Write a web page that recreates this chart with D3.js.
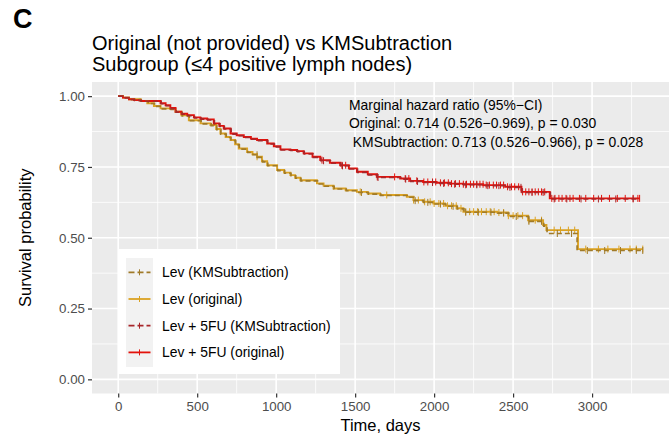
<!DOCTYPE html>
<html>
<head>
<meta charset="utf-8">
<script src="https://cdn.jsdelivr.net/npm/d3@7"></script>
<style>
  body { margin: 0; background: #fff; }
  text { font-family: "Liberation Sans", Arial, Helvetica, sans-serif; }
</style>
</head>
<body>
<script>
// survival steps (time in days, survival probability)
var levOrigT = [0, 30, 68, 142, 184, 226, 268, 330, 363, 400, 447, 521, 584, 620, 647, 680, 711, 740, 763, 816, 850, 879, 910, 943, 1006, 1050, 1090, 1120, 1153, 1258, 1300, 1363, 1440, 1511, 1580, 1658, 1827, 1869, 1930, 1995, 2070, 2143, 2185, 2400, 2469, 2595, 2690, 2711, 2911];
var levOrigS = [1, 0.995, 0.989, 0.983, 0.975, 0.965, 0.957, 0.955, 0.945, 0.932, 0.915, 0.904, 0.898, 0.884, 0.868, 0.856, 0.845, 0.83, 0.815, 0.803, 0.795, 0.786, 0.77, 0.756, 0.739, 0.73, 0.721, 0.712, 0.703, 0.692, 0.684, 0.674, 0.668, 0.662, 0.656, 0.651, 0.645, 0.633, 0.627, 0.621, 0.613, 0.604, 0.592, 0.589, 0.578, 0.562, 0.545, 0.527, 0.46];
var levOrigEnd = 3321;

var levKmsT = [0, 30, 68, 142, 190, 230, 272, 335, 366, 405, 450, 525, 588, 624, 650, 684, 714, 744, 767, 820, 853, 882, 914, 947, 1010, 1054, 1094, 1124, 1157, 1262, 1304, 1367, 1444, 1515, 1584, 1662, 1830, 1873, 1934, 1999, 2074, 2147, 2189, 2404, 2473, 2599, 2694, 2715, 2905];
var levKmsS = [1, 0.995, 0.988, 0.982, 0.974, 0.964, 0.955, 0.953, 0.943, 0.93, 0.913, 0.902, 0.896, 0.882, 0.866, 0.854, 0.843, 0.828, 0.813, 0.801, 0.793, 0.784, 0.768, 0.754, 0.737, 0.728, 0.719, 0.71, 0.701, 0.69, 0.682, 0.672, 0.666, 0.66, 0.654, 0.649, 0.643, 0.631, 0.625, 0.619, 0.611, 0.602, 0.59, 0.587, 0.575, 0.558, 0.541, 0.515, 0.455];
var levKmsEnd = 3321;

var lfuOrigT = [0, 30, 68, 100, 142, 268, 300, 330, 363, 400, 437, 479, 520, 563, 605, 640, 668, 711, 750, 795, 840, 879, 943, 985, 1027, 1090, 1132, 1174, 1230, 1279, 1340, 1405, 1460, 1511, 1580, 1637, 1785, 1848, 1930, 2016, 2100, 2185, 2311, 2450, 2553, 2732];
var lfuOrigS = [1, 0.995, 0.989, 0.986, 0.983, 0.975, 0.968, 0.958, 0.945, 0.938, 0.933, 0.925, 0.921, 0.918, 0.904, 0.895, 0.886, 0.868, 0.862, 0.856, 0.85, 0.845, 0.833, 0.823, 0.812, 0.81, 0.806, 0.798, 0.786, 0.774, 0.765, 0.756, 0.745, 0.733, 0.724, 0.715, 0.709, 0.701, 0.697, 0.694, 0.691, 0.689, 0.686, 0.68, 0.662, 0.639];
var lfuOrigEnd = 3301;

var lfuKmsT = [0, 34, 72, 104, 146, 272, 304, 334, 367, 404, 441, 483, 524, 567, 609, 644, 672, 715, 754, 799, 844, 883, 947, 989, 1031, 1094, 1136, 1178, 1234, 1283, 1344, 1409, 1464, 1515, 1584, 1641, 1789, 1852, 1934, 2020, 2104, 2189, 2315, 2454, 2557, 2736];
var lfuKmsS = [1, 0.994, 0.988, 0.985, 0.982, 0.973, 0.966, 0.956, 0.943, 0.936, 0.931, 0.923, 0.919, 0.916, 0.902, 0.893, 0.884, 0.866, 0.86, 0.854, 0.848, 0.843, 0.831, 0.821, 0.81, 0.808, 0.804, 0.796, 0.784, 0.772, 0.763, 0.754, 0.743, 0.731, 0.722, 0.713, 0.707, 0.699, 0.695, 0.692, 0.689, 0.687, 0.684, 0.678, 0.66, 0.637];
var lfuKmsEnd = 3301;

// censoring times (ticks on the curves)
var lfuCens = [1290, 1416, 1440, 1640, 1750, 1817, 1840, 1890, 1935, 1960, 1990, 2010, 2040, 2065, 2090, 2110, 2135, 2160, 2185, 2205, 2230, 2250, 2270, 2290, 2310, 2330, 2350, 2375, 2395, 2420, 2440, 2465, 2490, 2510, 2535, 2560, 2580, 2600, 2620, 2640, 2660, 2680, 2700, 2745, 2765, 2790, 2810, 2835, 2860, 2880, 2920, 2960, 3010, 3060, 3110, 3160, 3210, 3260, 3290, 3301];
var levCens = [879, 1532, 1700, 1870, 1900, 1940, 1975, 2000, 2030, 2060, 2085, 2110, 2140, 2170, 2200, 2225, 2250, 2275, 2300, 2330, 2355, 2380, 2410, 2440, 2470, 2500, 2530, 2560, 2600, 2640, 2680, 2760, 2800, 2850, 2890, 2960, 3040, 3100, 3170, 3240, 3280, 3321];
var lfuKmsCens = [1300, 1420, 1645, 1820, 1895, 1990, 2060, 2130, 2200, 2270, 2340, 2410, 2480, 2550, 2620, 2690, 2760, 2840, 2930, 3040, 3150, 3260];
var levKmsCens = [879, 1540, 1880, 1960, 2040, 2120, 2200, 2280, 2360, 2440, 2520, 2600, 2680, 2780, 2870, 2970, 3080, 3180, 3280, 3321];

var legendLabels = ["Lev (KMSubtraction)", "Lev (original)", "Lev + 5FU (KMSubtraction)", "Lev + 5FU (original)"];
var xTicks = [0, 500, 1000, 1500, 2000, 2500, 3000];
var yTicks = [0, 0.25, 0.5, 0.75, 1];
var annotLines = ["Marginal hazard ratio (95%\u2212CI)", "Original: 0.714 (0.526\u22120.969), p = 0.030", " KMSubtraction: 0.713 (0.526\u22120.966), p = 0.028"];

var width = 669, height = 435;
var colLevKms = "#a07a28", colLev = "#dba222", colLfuKms = "#a8262a", colLfu = "#e3120b";

var svg = d3.select("body").append("svg")
  .attr("width", width)
  .attr("height", height);

// panel edges
var pL = 92, pR = 669, pT = 82, pB = 393.5;

var x = d3.scaleLinear().domain([-166, 3487]).range([pL, pR]);
var y = d3.scaleLinear().domain([-0.05, 1.05]).range([pB, pT]);

// panel
svg.append("rect")
  .attr("x", pL).attr("y", pT)
  .attr("width", pR - pL).attr("height", pB - pT)
  .attr("fill", "#ebebeb");

var grid = svg.append("g");
// minor grid
[0.125, 0.375, 0.625, 0.875].forEach(function(v) {
  grid.append("line").attr("x1", pL).attr("x2", pR).attr("y1", y(v)).attr("y2", y(v))
    .attr("stroke", "#fff").attr("stroke-width", 0.8);
});
[250, 750, 1250, 1750, 2250, 2750, 3250].forEach(function(v) {
  grid.append("line").attr("y1", pT).attr("y2", pB).attr("x1", x(v)).attr("x2", x(v))
    .attr("stroke", "#fff").attr("stroke-width", 0.8);
});
// major grid
yTicks.forEach(function(v) {
  grid.append("line").attr("x1", pL).attr("x2", pR).attr("y1", y(v)).attr("y2", y(v))
    .attr("stroke", "#fff").attr("stroke-width", 1.6);
});
xTicks.forEach(function(v) {
  grid.append("line").attr("y1", pT).attr("y2", pB).attr("x1", x(v)).attr("x2", x(v))
    .attr("stroke", "#fff").attr("stroke-width", 1.6);
});

// build step line
function stepPts(T, S, end) {
  var pts = [];
  for (var i = 0; i < T.length; i++) pts.push([T[i], S[i]]);
  pts.push([end, S[S.length - 1]]);
  return pts;
}
function survAt(T, S, t) {
  var s = S[0];
  for (var i = 0; i < T.length; i++) { if (T[i] <= t) s = S[i]; }
  return s;
}
var line = d3.line().x(function(d) { return x(d[0]); }).y(function(d) { return y(d[1]); })
  .curve(d3.curveStepAfter);

// originals first, KMSubtraction dashed on top
var curves = [
  {T: levOrigT, S: levOrigS, end: levOrigEnd, cens: levCens, col: colLev, dash: null},
  {T: lfuOrigT, S: lfuOrigS, end: lfuOrigEnd, cens: lfuCens, col: colLfu, dash: null},
  {T: levKmsT, S: levKmsS, end: levKmsEnd, cens: levKmsCens, col: colLevKms, dash: "5,3"},
  {T: lfuKmsT, S: lfuKmsS, end: lfuKmsEnd, cens: lfuKmsCens, col: colLfuKms, dash: "5,3"}
];

curves.forEach(function(c) {
  svg.append("path")
    .attr("d", line(stepPts(c.T, c.S, c.end)))
    .attr("fill", "none")
    .attr("stroke", c.col)
    .attr("stroke-width", c.dash ? 1.6 : 1.9)
    .attr("stroke-dasharray", c.dash);
  svg.selectAll(null)
    .data(c.cens)
    .enter()
    .append("line")
    .attr("x1", function(d) { return x(d); })
    .attr("x2", function(d) { return x(d); })
    .attr("y1", function(d) { return y(survAt(c.T, c.S, d)) - 3.5; })
    .attr("y2", function(d) { return y(survAt(c.T, c.S, d)) + 3.5; })
    .attr("stroke", c.col)
    .attr("stroke-width", 1);
});

// axes
var yAxis = d3.axisLeft(y).tickValues(yTicks).tickFormat(d3.format(".2f")).tickSize(4).tickPadding(3);
var xAxis = d3.axisBottom(x).tickValues(xTicks).tickFormat(d3.format("d")).tickSize(4).tickPadding(4);

var gy = svg.append("g").attr("transform", "translate(" + pL + ",0)").call(yAxis);
var gx = svg.append("g").attr("transform", "translate(0," + pB + ")").call(xAxis);
[gy, gx].forEach(function(g) {
  g.select(".domain").remove();
  g.selectAll(".tick line").attr("stroke", "#333").attr("stroke-width", 1.2);
  g.selectAll(".tick text").attr("fill", "#4d4d4d").style("font-size", "13.3px")
    .style("font-family", "'Liberation Sans', Arial, sans-serif");
});

// axis titles
svg.append("text")
  .attr("x", (pL + pR) / 2).attr("y", 431)
  .attr("text-anchor", "middle").style("font-size", "16.5px")
  .text("Time, days");
svg.append("text")
  .attr("transform", "translate(31," + ((pT + pB) / 2) + ") rotate(-90)")
  .attr("text-anchor", "middle").style("font-size", "16.5px")
  .text("Survival probability");

// title
svg.append("text").attr("x", 13).attr("y", 28)
  .style("font-size", "27px").style("font-weight", "bold").text("C");
svg.append("text").attr("x", 92).attr("y", 50).style("font-size", "20px")
  .text("Original (not provided) vs KMSubtraction");
svg.append("text").attr("x", 92).attr("y", 71).style("font-size", "20px")
  .text("Subgroup (\u22644 positive lymph nodes)");

// annotation
annotLines.forEach(function(t, i) {
  svg.append("text").attr("x", 349).attr("y", 110 + i * 18.3)
    .style("font-size", "13.9px").style("white-space", "pre")
    .text(t);
});

// legend
var lg = svg.append("g");
lg.append("rect").attr("x", 118).attr("y", 249).attr("width", 222).attr("height", 125).attr("fill", "#fff");
lg.append("rect").attr("x", 126).attr("y", 258).attr("width", 27).attr("height", 109).attr("fill", "#f2f2f2");
var keyCols = [colLevKms, colLev, colLfuKms, colLfu];
var keyDash = ["6,3", null, "6,3", null];
legendLabels.forEach(function(lab, i) {
  var cy = 272.3 + i * 26.7;
  lg.append("line").attr("x1", 128.5).attr("x2", 150.5).attr("y1", cy).attr("y2", cy)
    .attr("stroke", keyCols[i]).attr("stroke-width", 1.8).attr("stroke-dasharray", keyDash[i]);
  lg.append("line").attr("x1", 139.5).attr("x2", 139.5).attr("y1", cy - 3).attr("y2", cy + 3)
    .attr("stroke", keyCols[i]).attr("stroke-width", 1);
  lg.append("text").attr("x", 162).attr("y", cy + 5)
    .style("font-size", "13.9px").text(lab);
});
</script>
</body>
</html>
